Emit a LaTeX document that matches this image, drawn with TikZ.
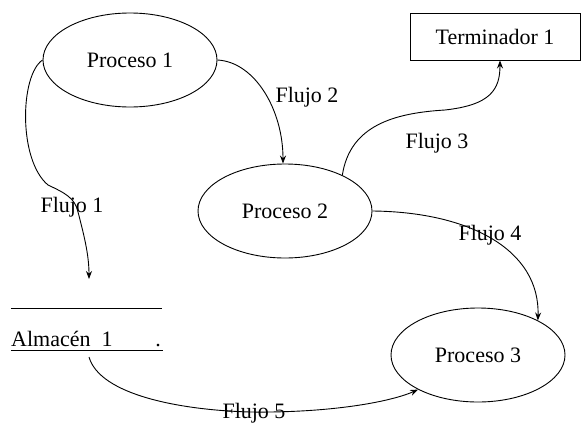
\documentclass[tikz,border=0pt]{standalone}
\usepackage{fontspec}
\setmainfont{Liberation Serif}
\usetikzlibrary{arrows.meta,shapes.geometric}
\begin{document}
\begin{tikzpicture}[x=1pt,y=-1pt,
  every node/.style={font=\fontsize{22}{26}\selectfont},
  proc/.style={draw,ellipse,minimum width=174,minimum height=94,inner sep=0pt,line width=0.9pt},
  term/.style={draw,rectangle,minimum width=170,minimum height=47,inner sep=0pt,line width=0.9pt},
  flow/.style={line width=0.9pt,-{Stealth[length=8pt,width=6pt]}},
  lbl/.style={inner sep=0pt}]
\useasboundingbox (0,0) rectangle (583,423);

% processes, terminator and store
\node[proc] (p1) at (130,60) {Proceso 1};
\node[proc] (p2) at (285,211) {Proceso 2};
\node[proc] (p3) at (478,355) {Proceso 3};
\node[term] (t1) at (495,36.5) {Terminador 1};
\node[minimum width=151,minimum height=41,inner sep=0pt] (alm) at (86.5,329.5) {};
\draw[line width=0.9pt] (alm.north west) -- (alm.north east);
\draw[line width=0.9pt] (alm.south west) -- ([xshift=1]alm.south east);
\node[lbl,anchor=base west] (almtxt) at (11,346) {Almacén\ \ 1};
\node[lbl,anchor=base east] (almdot) at (161,346) {.};

% free ends of flows touching the store
\coordinate (f1end) at (89,279);
\coordinate (f5start) at (89,357);

% flows
\draw[flow] (p1.west) .. controls (20,75) and (18,160) .. (48,185)
  .. controls (65,193) and (75,198) .. (78,212)
  .. controls (84,235) and (89,255) .. (f1end);
\draw[flow] (p1.east) .. controls (255,62) and (283,110) .. ([xshift=-2]p2.north);
\draw[flow] (p2.32) .. controls (350,125) and (395,113) .. (445,110)
  .. controls (490,105) and (500,90) .. ([xshift=5]t1.south);
\draw[flow] (p2.east) .. controls (470,212) and (540,250) .. (p3.30);
\draw[flow] (f5start) .. controls (100,395) and (180,410) .. (250,412)
  .. controls (330,413) and (390,402) .. (p3.210);

% flow labels
\node[lbl] (l1) at (72,207) {Flujo 1};
\node[lbl] (l2) at (307,97) {Flujo 2};
\node[lbl] (l3) at (437,143) {Flujo 3};
\node[lbl] (l4) at (490,235) {Flujo 4};
\node[lbl] (l5) at (254,413) {Flujo 5};
\end{tikzpicture}
\end{document}
